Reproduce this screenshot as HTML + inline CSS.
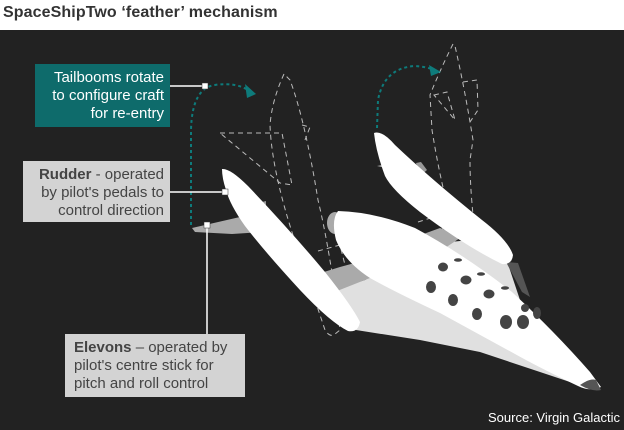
<!DOCTYPE html>
<html><head><meta charset="utf-8"><style>
html,body{margin:0;padding:0;width:624px;height:430px;overflow:hidden;background:#fff}
body{position:relative;font-family:"Liberation Sans",Arial,sans-serif}
.title{position:absolute;left:3px;top:4px;font-size:16px;font-weight:bold;color:#333;letter-spacing:0.1px}
.dark{position:absolute;left:0;top:30px;width:624px;height:400px;background:#222}
.box{position:absolute;font-size:15px;line-height:18px;box-sizing:border-box}
</style></head><body>
<div class="title">SpaceShipTwo ‘feather’ mechanism</div>
<div class="dark"></div>
<svg width="624" height="430" style="position:absolute;left:0;top:0">
<g fill="none" stroke="#bbb" stroke-width="1" stroke-dasharray="5,4">
 <path d="M284,74 Q272,100 270,125 Q272,180 305,270 L325,330 Q330,338 335,334 L340,330 Q330,250 318,200 Q305,120 290,80 Z"/>
 <path d="M220,133 L282,133 L292,185 L280,183 Z"/>
 <path d="M302,125 L310,127 L305,140"/>
 <path d="M453,44 Q440,70 430,95 L432,130 Q445,210 460,240 L475,260 L478,255 Q470,200 470,160 L473,140 Q465,90 455,46 Z"/>
 <path d="M434,95 L447,92 L455,120 Z"/>
 <path d="M463,82 L477,80 L478,110 L470,122"/>
 <path d="M418,222 L440,215 L445,240"/>
 <path d="M318,251 L340,245 L345,265"/>
</g>
<!-- light wing -->
<polygon points="327,292 365,280 420,245 470,240 505,255 520,300 582,386 540,372 480,352 420,340 356,330" fill="#e0e0e0"/>
<!-- bands -->
<polygon points="311,276 340,267 362,261 375,276 332,293" fill="#aaa"/>
<polygon points="418,236 440,228 463,236 445,248 422,246" fill="#aaa"/>
<!-- dark fin -->
<polygon points="506,262 518,263 530,297 522,292" fill="#555"/>
<!-- fuselage -->
<ellipse cx="335" cy="223" rx="8" ry="11" fill="#aaa"/>
<path d="M338,211 Q375,212 415,228 Q465,255 512,292 Q555,332 590,372 L601,387 Q590,392 578,386 Q540,368 515,354 L440,313 Q395,292 370,278 Q345,262 336,240 Q331,220 338,211 Z" fill="#fff"/>
<path d="M580,385 Q590,378 596,380 L601,390 Q592,392 580,385 Z" fill="#555"/>
<!-- windows -->
<g fill="#444">
<ellipse cx="443" cy="267" rx="5" ry="4.5"/><ellipse cx="458" cy="260" rx="4" ry="1.8"/>
<ellipse cx="466" cy="280" rx="5.5" ry="4.5"/><ellipse cx="481" cy="274" rx="4" ry="1.8"/>
<ellipse cx="431" cy="287" rx="5" ry="6"/><ellipse cx="453" cy="300" rx="5" ry="6"/>
<ellipse cx="489" cy="294" rx="5.5" ry="4.5"/><ellipse cx="505" cy="288" rx="4" ry="1.8"/>
<ellipse cx="477" cy="314" rx="5" ry="6"/>
<ellipse cx="506" cy="322" rx="6" ry="7"/><ellipse cx="523" cy="322" rx="6" ry="7"/>
<ellipse cx="525" cy="308" rx="4" ry="4"/><ellipse cx="537" cy="313" rx="4" ry="6"/>
</g>
<!-- right boom -->
<polygon points="377,166 398,162 405,170 390,169" fill="#aaa"/>
<polygon points="416,163 421,162 427,170 420,176" fill="#999"/>
<path d="M374,133 Q382,130 395,145 Q432,180 482,220 Q508,240 513,255 Q512,265 502,264 Q465,246 420,212 Q392,190 385,176 Q376,152 374,133 Z" fill="#fff"/>
<!-- left boom -->
<polygon points="262,202 266,201 266,210 260,210" fill="#999"/>
<polygon points="192,228 240,217 262,232 232,234 195,232" fill="#aaa"/>
<path d="M222,169 Q230,168 248,186 Q290,230 325,272 Q352,306 360,322 Q358,333 348,331 Q330,322 300,290 Q265,252 245,226 Q230,205 226,190 Q222,178 222,169 Z" fill="#fff"/>
<!-- teal arrows -->
<g fill="none" stroke="#0e7b7b" stroke-width="2" stroke-dasharray="3,3">
 <path d="M191,225 L191,130 Q192,88 215,85 Q235,82 248,90"/>
 <path d="M377,128 L378,100 Q384,68 415,66 Q428,67 434,70"/>
</g>
<polygon points="245,84 256,94 247,98" fill="#0e7b7b"/>
<polygon points="429,65 441,72 431,76" fill="#0e7b7b"/>
<!-- leader lines -->
<g stroke="#fff" stroke-width="1.5" fill="none">
 <line x1="170" y1="86" x2="205" y2="86"/>
 <line x1="170" y1="192" x2="225" y2="192"/>
 <line x1="207" y1="226" x2="207" y2="334"/>
</g>
<g fill="#fff" stroke="#333" stroke-width="0.5">
 <rect x="202" y="83" width="6" height="6"/>
 <rect x="222" y="189" width="6" height="6"/>
 <rect x="204" y="222" width="6" height="6"/>
</g>
</svg>
<div class="box" style="left:35px;top:64px;width:135px;height:63px;background:#0e6b6b;color:#fff;text-align:right;padding:5px 6px 0 0">Tailbooms rotate<br>to configure craft<br>for re-entry</div>
<div class="box" style="left:23px;top:161px;width:147px;height:61px;background:#d3d3d3;color:#444;text-align:right;padding:5px 6px 0 0"><b>Rudder</b> - operated<br>by pilot's pedals to<br>control direction</div>
<div class="box" style="left:65px;top:334px;width:180px;height:63px;background:#d3d3d3;color:#444;text-align:left;padding:5px 0 0 9px"><b>Elevons</b> – operated by<br>pilot's centre stick for<br>pitch and roll control</div>
<div style="position:absolute;right:4px;top:410px;font-size:13px;color:#fff">Source: Virgin Galactic</div>
</body></html>
